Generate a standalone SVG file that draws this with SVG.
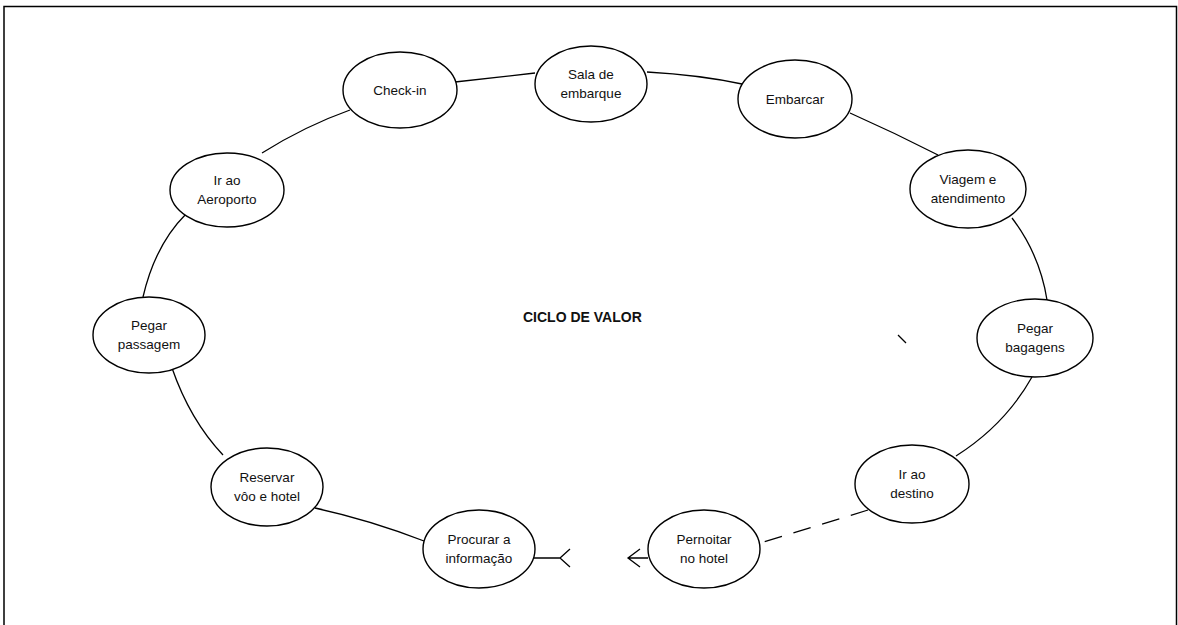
<svg xmlns="http://www.w3.org/2000/svg" width="1178" height="625" viewBox="0 0 1178 625">
  <style>
    .node ellipse { fill: #fff; stroke: #000; stroke-width: 1.4; }
    .node text { font-family: "Liberation Sans", Arial, sans-serif; font-size: 13.5px; fill: #111; text-anchor: middle; }
    .link { fill: none; stroke: #000; stroke-width: 1.3; }
    .dash { stroke-dasharray: 18 12; }
    .title { font-family: "Liberation Sans", Arial, sans-serif; font-size: 14px; font-weight: bold; fill: #111; }
  </style>

  <rect width="1178" height="625" fill="#fff"/>
  <!-- outer frame (bottom edge runs off the page) -->
  <path d="M4,640 L4,6.5 L1176.5,6.5 L1176.5,640" fill="none" stroke="#000" stroke-width="1.5"/>

  <g id="connectors">
    <path class="link" d="M262,153 Q305,126 350,110"/>
    <path class="link" d="M455,82 L535,73"/>
    <path class="link" d="M647,72 Q700,75 742,84"/>
    <path class="link" d="M850,113 Q895,133 938,155"/>
    <path class="link" d="M1012,218 Q1040,255 1047,300"/>
    <path class="link" d="M1032,377 Q1005,425 956,456"/>
    <path class="link dash" d="M868,510 L760,543"/>
    <path class="link" d="M648,558 L628,558 M640,549 L628,558 L640,567"/>
    <path class="link" d="M534,558 L560,558 M570,549 L560,558 L570,567"/>
    <path class="link" d="M424,541 Q370,520 315,508"/>
    <path class="link" d="M223,455 Q190,420 172,368"/>
    <path class="link" d="M143,297 Q155,245 186,214"/>
    <path class="link" d="M898,335 L906,343" stroke-width="1"/>
  </g>

  <g id="node-checkin" class="node">
    <ellipse cx="400" cy="90" rx="57" ry="38"/>
    <text x="400" y="95">Check-in</text>
  </g>
  <g id="node-sala" class="node">
    <ellipse cx="591" cy="84" rx="56" ry="38"/>
    <text x="591" y="79">Sala de</text>
    <text x="591" y="98">embarque</text>
  </g>
  <g id="node-embarcar" class="node">
    <ellipse cx="795" cy="99" rx="57" ry="39"/>
    <text x="795" y="104">Embarcar</text>
  </g>
  <g id="node-viagem" class="node">
    <ellipse cx="968" cy="189" rx="58" ry="39"/>
    <text x="968" y="184">Viagem e</text>
    <text x="968" y="203">atendimento</text>
  </g>
  <g id="node-bagagens" class="node">
    <ellipse cx="1035" cy="338" rx="58" ry="39"/>
    <text x="1035" y="333">Pegar</text>
    <text x="1035" y="352">bagagens</text>
  </g>
  <g id="node-destino" class="node">
    <ellipse cx="912" cy="484" rx="57" ry="39"/>
    <text x="912" y="479">Ir ao</text>
    <text x="912" y="498">destino</text>
  </g>
  <g id="node-pernoitar" class="node">
    <ellipse cx="704" cy="549" rx="56" ry="39"/>
    <text x="704" y="544">Pernoitar</text>
    <text x="704" y="563">no hotel</text>
  </g>
  <g id="node-procurar" class="node">
    <ellipse cx="479" cy="549" rx="56" ry="39"/>
    <text x="479" y="544">Procurar a</text>
    <text x="479" y="563">informação</text>
  </g>
  <g id="node-reservar" class="node">
    <ellipse cx="267" cy="487" rx="56" ry="39"/>
    <text x="267" y="482">Reservar</text>
    <text x="267" y="501">vôo e hotel</text>
  </g>
  <g id="node-passagem" class="node">
    <ellipse cx="149" cy="335" rx="56" ry="38"/>
    <text x="149" y="330">Pegar</text>
    <text x="149" y="349">passagem</text>
  </g>
  <g id="node-aeroporto" class="node">
    <ellipse cx="227" cy="190" rx="57" ry="37"/>
    <text x="227" y="185">Ir ao</text>
    <text x="227" y="204">Aeroporto</text>
  </g>

  <text class="title" x="523" y="322">CICLO DE VALOR</text>
</svg>
